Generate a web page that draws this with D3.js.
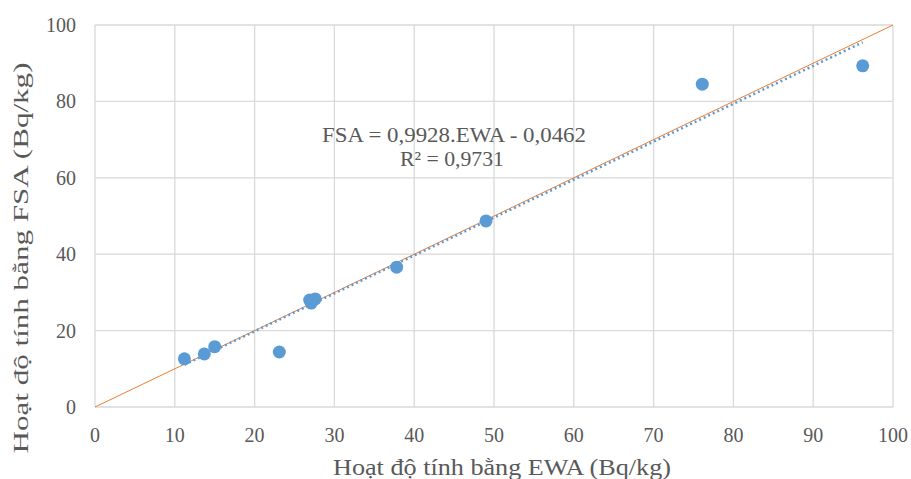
<!DOCTYPE html>
<html>
<head>
<meta charset="utf-8">
<script src="https://cdn.jsdelivr.net/npm/d3@7"></script>
<style>
  body { margin: 0; background: #fff; }
  svg text { font-family: "Liberation Serif", "Times New Roman", serif; fill: #595959; }
</style>
</head>
<body>
<div id="container"></div>
<script>
// data
const ewa = [11.2, 13.7, 15.0, 23.1, 26.9, 27.1, 27.6, 37.8, 49.0, 76.1, 96.2];
const fsa = [12.6, 13.9, 15.8, 14.4, 28.0, 27.2, 28.3, 36.6, 48.7, 84.5, 89.3];
const xTicks = [0, 10, 20, 30, 40, 50, 60, 70, 80, 90, 100];
const yTicks = [0, 20, 40, 60, 80, 100];
const slope = 0.9928, intercept = -0.0462;
const eqText = "FSA = 0,9928.EWA - 0,0462";
const r2Text = "R² = 0,9731";

const width = 911, height = 479;
const margin = {top: 25, right: 18, bottom: 72, left: 95};

const x = d3.scaleLinear([0, 100], [margin.left, width - margin.right]);
const y = d3.scaleLinear([0, 100], [height - margin.bottom, margin.top]);

const svg = d3.select('#container')
  .append('svg')
  .attr('width', width)
  .attr('height', height);

// grid
svg.append('g')
  .selectAll('line')
  .data(xTicks)
  .join('line')
    .attr('x1', d => x(d)).attr('x2', d => x(d))
    .attr('y1', y(0)).attr('y2', y(100))
    .attr('stroke', '#d9d9d9').attr('stroke-width', 1.3);

svg.append('g')
  .selectAll('line')
  .data(yTicks)
  .join('line')
    .attr('x1', x(0)).attr('x2', x(100))
    .attr('y1', d => y(d)).attr('y2', d => y(d))
    .attr('stroke', '#d9d9d9').attr('stroke-width', 1.3);

// tick labels
svg.append('g')
  .style('font-size', '20px')
  .attr('text-anchor', 'middle')
  .selectAll('text')
  .data(xTicks)
  .join('text')
    .attr('x', d => x(d))
    .attr('y', y(0) + 35)
    .text(d => d);

svg.append('g')
  .style('font-size', '20px')
  .attr('text-anchor', 'end')
  .selectAll('text')
  .data(yTicks)
  .join('text')
    .attr('x', x(0) - 19)
    .attr('y', d => y(d) + 7)
    .text(d => d);

// 1:1 line
svg.append('line')
  .attr('x1', x(0)).attr('y1', y(0))
  .attr('x2', x(100)).attr('y2', y(100))
  .attr('stroke', '#ed7d31').attr('stroke-width', 1);

// points
svg.append('g')
  .attr('fill', '#5b9bd5')
  .selectAll('circle')
  .data(ewa.map((d, i) => [d, fsa[i]]))
  .join('circle')
    .attr('cx', d => x(d[0]))
    .attr('cy', d => y(d[1]))
    .attr('r', 6.5);

// linear trendline (dotted)
const [x0, x1] = d3.extent(ewa);
svg.append('line')
  .attr('x1', x(x0)).attr('y1', y(slope * x0 + intercept))
  .attr('x2', x(x1)).attr('y2', y(slope * x1 + intercept))
  .attr('stroke', '#5b9bd5')
  .attr('stroke-width', 2.5)
  .attr('stroke-dasharray', '2,3');

// equation
svg.append('text')
  .attr('x', 454).attr('y', 142)
  .attr('text-anchor', 'middle')
  .attr('textLength', 264)
  .attr('lengthAdjust', 'spacingAndGlyphs')
  .style('font-size', '21px')
  .text(eqText);
svg.append('text')
  .attr('x', 452).attr('y', 166)
  .attr('text-anchor', 'middle')
  .attr('textLength', 104)
  .attr('lengthAdjust', 'spacingAndGlyphs')
  .style('font-size', '21px')
  .text(r2Text);

// axis titles
svg.append('text')
  .attr('x', 502)
  .attr('y', 475)
  .attr('text-anchor', 'middle')
  .attr('textLength', 338)
  .attr('lengthAdjust', 'spacingAndGlyphs')
  .style('font-size', '23px')
  .text('Hoạt độ tính bằng EWA (Bq/kg)');

svg.append('text')
  .attr('transform', 'translate(28,258) rotate(-90)')
  .attr('text-anchor', 'middle')
  .attr('textLength', 391)
  .attr('lengthAdjust', 'spacingAndGlyphs')
  .style('font-size', '20px')
  .text('Hoạt độ tính bằng FSA (Bq/kg)');
</script>
</body>
</html>
